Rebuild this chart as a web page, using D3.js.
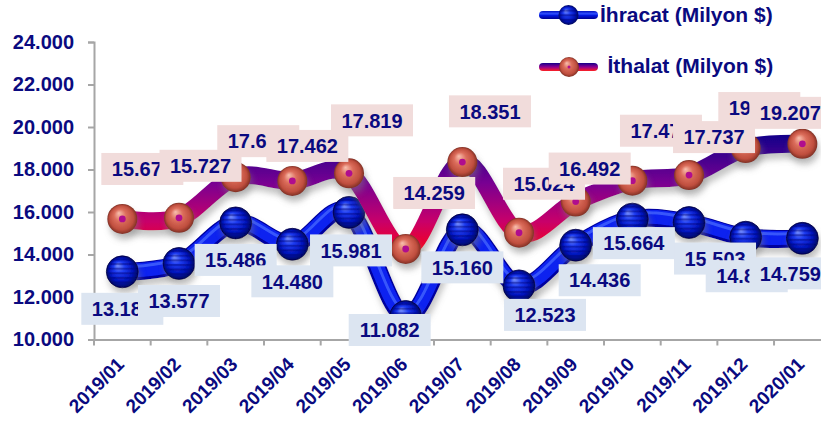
<!DOCTYPE html>
<html><head><meta charset="utf-8">
<script src="https://cdn.jsdelivr.net/npm/d3@7"></script>
<style>html,body{margin:0;padding:0;background:#fff;overflow:hidden}</style>
</head><body><svg id="c" width="821" height="428" xmlns="http://www.w3.org/2000/svg"></svg>
<script>
// ---- data ----
const categories = ["2019/01","2019/02","2019/03","2019/04","2019/05","2019/06","2019/07","2019/08","2019/09","2019/10","2019/11","2019/12","2020/01"];
const exportsVals = [13185, 13577, 15486, 14480, 15981, 11082, 15160, 12523, 14436, 15664, 15503, 14812, 14759];
const importsVals = [15672, 15727, 17640, 17462, 17819, 14259, 18351, 15024, 16492, 17472, 17737, 19010, 19207];
const yTickValues = [10000, 12000, 14000, 16000, 18000, 20000, 22000, 24000];
const seriesNames = ["İhracat (Milyon $)", "İthalat (Milyon $)"];

// ---- label layout (offset of label box centre from its point, px) ----
const expLabelDx = [0, 0, 0, 0, 2, -16, 0, 26, 24, 1.5, 26, 1, -12];
const expLabelDy = [37, 37.5, 37, 37, 38, 13.5, 37.5, 29, 35, 24, 36, 39, 35];
const impLabelDx = [20, 21.5, 22.6, 15, 23, 28.5, 27.6, 25, 14, 28.6, 25, 13.6, -12];
const impLabelDy = [-50, -52, -36, -35, -53, -56, -50.7, -49, -33, -50, -38, -40, -31];

const NAVY = "#0a0a80";
const svg = d3.select("#c");
const defs = svg.append("defs");

const x = d3.scaleBand().domain(categories).range([94, 94 + 13 * 56.67]);
const y = d3.scaleLinear().domain([10000, 24000]).range([339.5, 42]);
const bw = x.bandwidth();
const cx = c => x(c) + bw / 2;
const fmt = d3.formatLocale({decimal: ",", thousands: ".", grouping: [3], currency: ["", "$"]}).format(",d");

// ---- defs ----
const sh = defs.append("filter").attr("id", "shadow").attr("x", "-20%").attr("y", "-20%").attr("width", "140%").attr("height", "160%");
sh.append("feGaussianBlur").attr("in", "SourceAlpha").attr("stdDeviation", 3).attr("result", "b");
sh.append("feOffset").attr("in", "b").attr("dx", 2).attr("dy", 6).attr("result", "o");
sh.append("feFlood").attr("flood-color", "#808080").attr("flood-opacity", 0.45).attr("result", "f");
sh.append("feComposite").attr("in", "f").attr("in2", "o").attr("operator", "in").attr("result", "s");
const mg = sh.append("feMerge");
mg.append("feMergeNode").attr("in", "s");
mg.append("feMergeNode").attr("in", "SourceGraphic");

const ig = defs.append("linearGradient").attr("id", "impGrad").attr("gradientUnits", "userSpaceOnUse")
  .attr("x1", 0).attr("x2", 0).attr("y1", 255).attr("y2", 135);
[[0, "#ff0010"], [0.28, "#c8006a"], [0.6, "#780092"], [1, "#14008a"]].forEach(s =>
  ig.append("stop").attr("offset", s[0]).attr("stop-color", s[1]));

const igL = defs.append("linearGradient").attr("id", "impLeg").attr("x1", 0).attr("x2", 0).attr("y1", 0).attr("y2", 1);
[[0, "#14008a"], [0.5, "#900090"], [1, "#ff2020"]].forEach(s =>
  igL.append("stop").attr("offset", s[0]).attr("stop-color", s[1]));
const egL = defs.append("linearGradient").attr("id", "expLeg").attr("x1", 0).attr("x2", 0).attr("y1", 0).attr("y2", 1);
[[0, "#0010c0"], [0.35, "#3050ff"], [0.55, "#0018e0"], [1, "#000090"]].forEach(s =>
  egL.append("stop").attr("offset", s[0]).attr("stop-color", s[1]));

const eb = defs.append("radialGradient").attr("id", "expBall").attr("cx", "50%").attr("cy", "50%").attr("r", "50%").attr("fx", "35%").attr("fy", "28%");
[[0, "#7d95ff"], [0.35, "#1d3cf2"], [0.75, "#0012b8"], [1, "#00075a"]].forEach(s =>
  eb.append("stop").attr("offset", s[0]).attr("stop-color", s[1]));
const ib = defs.append("radialGradient").attr("id", "impBall").attr("cx", "50%").attr("cy", "50%").attr("r", "50%").attr("fx", "38%").attr("fy", "30%");
[[0, "#f8bfae"], [0.4, "#dc6e5c"], [0.8, "#bf4e3e"], [1, "#803024"]].forEach(s =>
  ib.append("stop").attr("offset", s[0]).attr("stop-color", s[1]));
const pat = defs.append("pattern").attr("id", "stripes").attr("patternUnits", "userSpaceOnUse")
  .attr("x", 0).attr("y", 0.5).attr("width", 40).attr("height", 4.6);
pat.append("rect").attr("x", 0).attr("y", 0).attr("width", 40).attr("height", 2).attr("fill", "#000070").attr("opacity", 0.42);

// ---- axes ----
const yAxis = svg.append("g").attr("transform", "translate(94,0)")
  .call(d3.axisLeft(y).tickValues(yTickValues).tickSize(6).tickPadding(14).tickFormat(fmt));
yAxis.select(".domain").attr("stroke", "#a6a6a6").attr("stroke-width", 2);
yAxis.selectAll(".tick line").attr("stroke", "#a6a6a6").attr("stroke-width", 2);
yAxis.selectAll(".tick text").attr("fill", NAVY).attr("font-family", "Liberation Sans, Arial, sans-serif")
  .attr("font-weight", "bold").attr("font-size", 20);

const xAxis = svg.append("g").attr("transform", "translate(0,339.5)")
  .call(d3.axisBottom(x).tickSize(0));
xAxis.select(".domain").attr("stroke", "#a6a6a6").attr("stroke-width", 2);
xAxis.selectAll(".tick text").attr("fill", NAVY).attr("font-family", "Liberation Sans, Arial, sans-serif")
  .attr("font-weight", "bold").attr("font-size", 19)
  .attr("text-anchor", "end").attr("x", 0).attr("y", 0).attr("dy", 0)
  .attr("transform", "translate(3,26) rotate(-45)");
xAxis.selectAll(".bound").data(categories).enter().append("line").attr("class", "bound")
  .attr("x1", d => x(d)).attr("x2", d => x(d)).attr("y1", 0).attr("y2", 6)
  .attr("stroke", "#a6a6a6").attr("stroke-width", 2);

// ---- lines ----
const line = vals => d3.line().x((d, i) => cx(categories[i])).y(d => y(d)).curve(d3.curveCardinal.tension(0))(vals);

const eLine = svg.append("g").attr("filter", "url(#shadow)");
eLine.append("path").attr("d", line(exportsVals)).attr("fill", "none").attr("stroke", "#00009e").attr("stroke-width", 18).attr("stroke-linecap", "round");
eLine.append("path").attr("d", line(exportsVals)).attr("fill", "none").attr("stroke", "#0a22f0").attr("stroke-width", 14).attr("transform", "translate(0,-1)");
eLine.append("path").attr("d", line(exportsVals)).attr("fill", "none").attr("stroke", "#4a6cff").attr("stroke-width", 3).attr("opacity", 0.7).attr("transform", "translate(0,-5)");

const eMarks = svg.append("g").attr("filter", "url(#shadow)").selectAll("g").data(exportsVals).enter().append("g")
  .attr("transform", (d, i) => `translate(${cx(categories[i])},${y(d)})`);
eMarks.append("circle").attr("r", 16).attr("fill", "url(#expBall)");
eMarks.append("circle").attr("r", 15).attr("fill", "url(#stripes)");
eMarks.append("circle").attr("r", 16).attr("fill", "none").attr("stroke", "#000050").attr("stroke-width", 0.8);

const iLine = svg.append("g").attr("filter", "url(#shadow)");
iLine.append("path").attr("d", line(importsVals)).attr("fill", "none").attr("stroke", "url(#impGrad)").attr("stroke-width", 18).attr("stroke-linecap", "round");

const iMarks = svg.append("g").attr("filter", "url(#shadow)").selectAll("g").data(importsVals).enter().append("g")
  .attr("transform", (d, i) => `translate(${cx(categories[i])},${y(d)})`);
iMarks.append("circle").attr("r", 15).attr("fill", "url(#impBall)");
iMarks.append("circle").attr("r", 3.4).attr("fill", "#b0108e");

// ---- data labels ----
function labels(vals, dx, dy, bg) {
  const g = svg.append("g").selectAll("g").data(vals).enter().append("g")
    .attr("transform", (d, i) => `translate(${cx(categories[i]) + dx[i]},${y(d) + dy[i]})`);
  g.append("rect").attr("x", -41).attr("y", -16).attr("width", 82).attr("height", 32).attr("fill", bg);
  g.append("text").attr("text-anchor", "middle").attr("dy", "0.36em").attr("fill", NAVY)
    .attr("font-family", "Liberation Sans, Arial, sans-serif").attr("font-weight", "bold").attr("font-size", 20)
    .text(d => fmt(d));
}
labels(exportsVals, expLabelDx, expLabelDy, "#dce5f1");
labels(importsVals, impLabelDx, impLabelDy, "#f1dcdb");

// ---- legend ----
const leg = svg.append("g");
leg.append("rect").attr("x", 539).attr("y", 11).attr("width", 59).attr("height", 8).attr("rx", 4).attr("fill", "url(#expLeg)");
leg.append("circle").attr("cx", 568.5).attr("cy", 15).attr("r", 10).attr("fill", "url(#expBall)");
leg.append("circle").attr("cx", 568.5).attr("cy", 15).attr("r", 9).attr("fill", "url(#stripes)");
leg.append("rect").attr("x", 539).attr("y", 63).attr("width", 59).attr("height", 8).attr("rx", 4).attr("fill", "url(#impLeg)");
leg.append("circle").attr("cx", 569).attr("cy", 67).attr("r", 10).attr("fill", "url(#impBall)");
leg.append("circle").attr("cx", 569).attr("cy", 67).attr("r", 1.5).attr("fill", "#b0108e");
leg.selectAll("text").data(seriesNames).enter().append("text")
  .attr("x", (d, i) => i === 0 ? 600 : 607.5).attr("y", (d, i) => i === 0 ? 22 : 73)
  .attr("fill", NAVY).attr("font-family", "Liberation Sans, Arial, sans-serif").attr("font-weight", "bold").attr("font-size", 21)
  .text(d => d);
</script></body></html>
